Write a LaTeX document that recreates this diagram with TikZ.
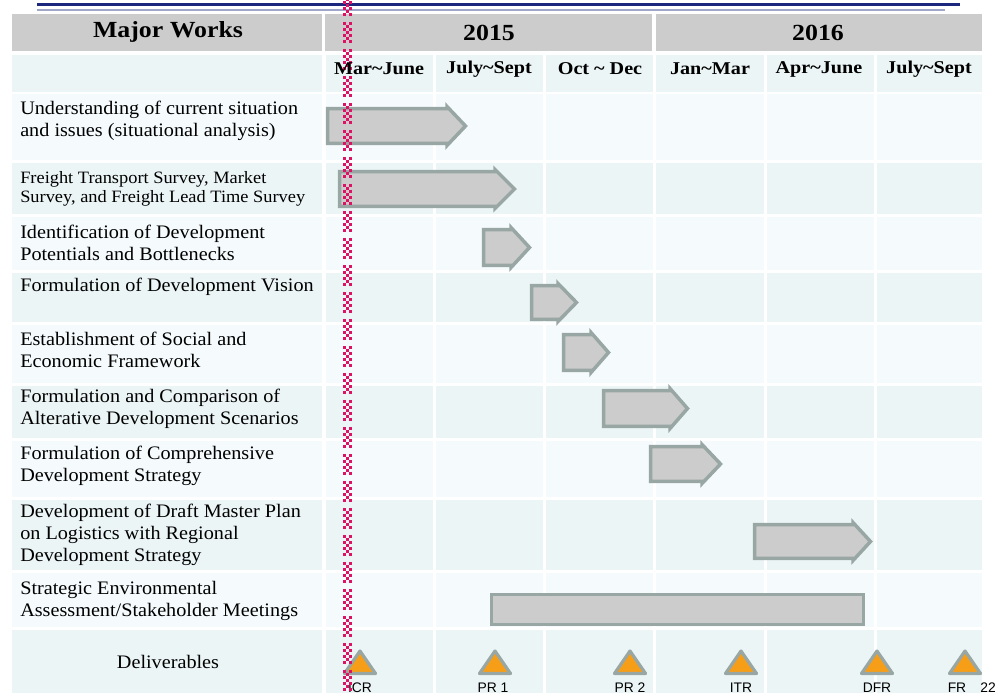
\documentclass[tikz,border=0pt]{standalone}
\usepackage{fontspec}
\setmainfont{Liberation Serif}[FakeStretch=1.06]
\newfontfamily\hdrfont{Liberation Serif}[FakeStretch=1.12]
\newfontfamily\lblfont{Liberation Sans}
\definecolor{navy}{RGB}{28,40,125}
\definecolor{lightnavy}{RGB}{160,166,200}
\definecolor{hdrgray}{RGB}{204,204,204}
\definecolor{rowA}{RGB}{245,250,252}
\definecolor{rowB}{RGB}{236,245,246}
\definecolor{barfill}{RGB}{204,204,204}
\definecolor{barline}{RGB}{152,166,164}
\definecolor{orng}{RGB}{247,158,24}
\definecolor{chk}{RGB}{222,18,100}
\tikzset{
  barrow/.style={fill=barfill, draw=barline, line width=2.6pt},
  tri/.style={fill=orng, draw=barline, line width=2.4pt, line join=round},
  task/.style={anchor=west, inner sep=0pt, align=left, font=\fontsize{14.3}{16.5}\selectfont},
  taskS/.style={anchor=west, inner sep=0pt, align=left, font=\fontsize{13.0}{14.6}\selectfont},
  hdr/.style={inner sep=0pt, font=\hdrfont\bfseries\fontsize{17.3}{20}\selectfont},
  sub/.style={inner sep=0pt, font=\hdrfont\bfseries\fontsize{13.5}{16}\selectfont},
  lbl/.style={inner sep=0pt, font=\lblfont\fontsize{10.4}{12}\selectfont}
}
\newcommand\garrow[5]{\draw[barrow] (#1+1.7,#4+1.7) -- (#2,#4+1.7) -- (#2,#4-0.5) -- (#3-2.5,{(#4+#5)/2}) -- (#2,#5+0.5) -- (#2,#5-1.7) -- (#1+1.7,#5-1.7) -- cycle;}
\newcommand\deliv[1]{\draw[tri] (#1,651) -- (#1+15.5,673.5) -- (#1-15.5,673.5) -- cycle;}
\newcommand\chkdash[1]{%
  \foreach \j in {0,2,4,6}{
    \fill[chk] (342.5,#1+\j*3) rectangle ++(3.3,3);
    \fill[chk] (349.1,#1+\j*3) rectangle ++(3.3,3);
  }
  \foreach \j in {1,3,5}{
    \fill[chk] (345.8,#1+\j*3) rectangle ++(3.3,3);
  }}
\begin{document}
\begin{tikzpicture}[x=0.75pt,y=-0.75pt]
\useasboundingbox (0,0) rectangle (1000,697);
\fill[white] (0,0) rectangle (1000,697);
% top rules
\draw[navy, line width=2.4pt] (37,4.5) -- (960,4.5);
\draw[lightnavy, line width=1pt] (37,10) -- (945,10);
% header band
\fill[hdrgray] (12,14) rectangle (322,51);
\fill[hdrgray] (325,14) rectangle (652,51);
\fill[hdrgray] (656,14) rectangle (982,51);
% table cells
\foreach \ya/\yb/\c in {55/92/rowB, 94/160/rowA, 163/214/rowB, 217/270/rowA, 273/322/rowB, 325/383/rowA, 386/438/rowB, 441/497/rowA, 500/570/rowB, 573/627/rowA, 630/693/rowB}{
  \foreach \xa/\xb in {12/322, 326/433, 436/543, 546/653, 656/764, 767/874, 877/982}{
    \fill[\c] (\xa,\ya) rectangle (\xb,\yb);
  }
}
% checkered red line
\foreach \d in {0,...,25}{
  \pgfmathsetmacro\yy{\d*27-5}
  \chkdash{\yy}
}
% header texts
\node[hdr] (mw) at (168,32) {Major Works};
\node[hdr] (y15) at (489,33) {2015};
\node[hdr] (y16) at (818,33) {2016};
\node[sub] (q1) at (379,69) {Mar\textasciitilde June};
\node[sub] (q2) at (489,69) {July\textasciitilde Sept};
\node[sub] (q3) at (600,69) {Oct \textasciitilde{} Dec};
\node[sub] (q4) at (710,69) {Jan\textasciitilde Mar};
\node[sub] (q5) at (819,69) {Apr\textasciitilde June};
\node[sub] (q6) at (929,69) {July\textasciitilde Sept};
% task texts
\node[task] (t1) at (20,121) {Understanding of current situation\\and issues (situational analysis)};
\node[taskS] (t2) at (20,189) {Freight Transport Survey, Market\\Survey, and Freight Lead Time Survey};
\node[task] (t3) at (20,243) {Identification of Development\\Potentials and Bottlenecks};
\node[task] (t4) at (20,287) {Formulation of Development Vision};
\node[task] (t5) at (20,350) {Establishment of Social and\\Economic Framework};
\node[task] (t6) at (20,409) {Formulation and Comparison of\\Alterative Development Scenarios};
\node[task] (t7) at (20,466) {Formulation of Comprehensive\\Development Strategy};
\node[task] (t8) at (20,535) {Development of Draft Master Plan\\on Logistics with Regional\\Development Strategy};
\node[task] (t9) at (20,601) {Strategic Environmental\\Assessment/Stakeholder Meetings};
\node[task, anchor=center] (t10) at (168,662) {Deliverables};
% bars
\garrow{326}{447}{468}{107}{145}
\garrow{338}{495}{517}{170}{208}
\garrow{482}{511}{532}{228}{267}
\garrow{530}{558}{579}{284}{321}
\garrow{562}{591}{611}{333}{372}
\garrow{602}{670}{690}{389}{428}
\garrow{649}{702}{723}{445}{483}
\garrow{753}{853}{873}{523}{560}
\draw[barrow] (491.7,594.7) rectangle (863.3,624.3);
% deliverables
\foreach \x in {360,495,630,741,877,965}{\deliv{\x}}
\node[lbl] (d1) at (360,688) {ICR};
\node[lbl] (d2) at (493,688) {PR 1};
\node[lbl] (d3) at (630,688) {PR 2};
\node[lbl] (d4) at (741,688) {ITR};
\node[lbl] (d5) at (877,688) {DFR};
\node[lbl] (d6) at (957,688) {FR};
\node[lbl] (pg) at (988,688) {22};
% red line over bars and first triangle
\begin{scope}
\clip (340,94) rectangle (356,214);
\foreach \d in {3,...,8}{
  \pgfmathsetmacro\yy{\d*27-5}
  \chkdash{\yy}
}
\end{scope}
\begin{scope}
\clip (340,640) rectangle (356,697);
\foreach \d in {23,...,25}{
  \pgfmathsetmacro\yy{\d*27-5}
  \chkdash{\yy}
}
\end{scope}
\end{tikzpicture}
\end{document}
